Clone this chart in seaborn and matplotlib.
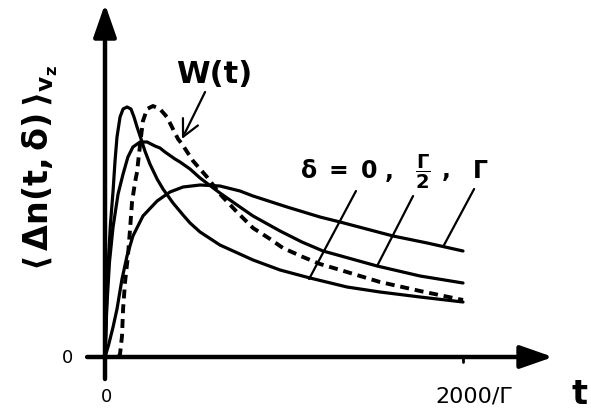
import matplotlib
matplotlib.use('Agg')
import matplotlib.pyplot as plt
import seaborn as sns
import numpy as np

# values (t in units of 1/Gamma, y in arbitrary units)
t_d0 = [0, 10, 20, 30, 45, 56, 67, 84, 101, 123, 145, 162, 179, 196, 223, 251,
        291, 324, 380, 436, 475, 531, 642, 827, 978, 1145, 1352, 1536, 1760, 2000]
y_d0 = [0, 0.55, 1.0, 1.32, 1.66, 1.96, 2.20, 2.40, 2.48, 2.50, 2.48, 2.40, 2.30,
        2.21, 2.06, 1.93, 1.78, 1.68, 1.54, 1.42, 1.34, 1.25, 1.12, 0.97, 0.87,
        0.79, 0.70, 0.65, 0.60, 0.55]

t_half = [0, 10, 25, 45, 73, 101, 128, 156, 196, 235, 279, 307, 335, 391, 419,
          475, 531, 642, 754, 827, 978, 1100, 1218, 1520, 1760, 2000]
y_half = [0, 0.5, 0.95, 1.30, 1.63, 1.83, 2.00, 2.10, 2.15, 2.15, 2.11, 2.09,
          2.05, 1.98, 1.95, 1.88, 1.79, 1.64, 1.50, 1.41, 1.26, 1.15, 1.06, 0.91,
          0.81, 0.74]

t_gam = [0, 20, 45, 67, 95, 123, 156, 212, 291, 363, 436, 531, 642, 754, 827,
         1017, 1201, 1313, 1609, 1800, 2000]
y_gam = [0, 0.12, 0.30, 0.48, 0.78, 1.01, 1.21, 1.41, 1.56, 1.65, 1.70, 1.72,
         1.71, 1.66, 1.61, 1.50, 1.40, 1.35, 1.21, 1.14, 1.06]

t_w = [75, 84, 95, 101, 112, 128, 140, 151, 168, 179, 190, 201, 212, 235, 268,
       307, 346, 374, 408, 430, 492, 570, 642, 737, 827, 922, 994, 1106, 1201,
       1296, 1536, 1760, 2000]
y_w = [0, 0.03, 0.21, 0.48, 0.75, 1.01, 1.28, 1.55, 1.75, 1.85, 2.03, 2.20, 2.36,
       2.48, 2.51, 2.48, 2.40, 2.30, 2.18, 2.13, 1.96, 1.80, 1.63, 1.45, 1.29,
       1.18, 1.09, 1.00, 0.93, 0.88, 0.75, 0.66, 0.57]

delta_labels = [r'$\mathbf{\delta\ =\ 0\ ,}$', r'$\mathbf{\dfrac{\Gamma}{2}}$', r'$\mathbf{,}$', r'$\mathbf{\Gamma}$']
x_tick_label = '2000/Γ'

sns.set_style('white')
plt.rcParams['font.family'] = ['DejaVu Sans']
plt.rcParams['mathtext.fontset'] = 'dejavusans'
plt.rcParams['text.color'] = 'black'

fig = plt.figure(figsize=(5.91, 4.14), dpi=100)
ax = fig.add_axes([0, 0, 1, 1])
ax.set_xlim(-586.6, 2715)
ax.set_ylim(-0.56, 3.58)
ax.axis('off')

# curves
for tt, yy in [(t_d0, y_d0), (t_half, y_half), (t_gam, y_gam)]:
    sns.lineplot(x=tt, y=yy, ax=ax, color='black', lw=2.3, sort=False,
                 solid_joinstyle='round', solid_capstyle='round')
sns.lineplot(x=t_w, y=y_w, ax=ax, color='black', lw=2.8, sort=False,
             linestyle=(0, (2.3, 1.5)))

# axes drawn as arrows
arrow = dict(arrowstyle='-|>,head_length=1.0,head_width=0.35', lw=3.2,
             color='black', shrinkA=0, shrinkB=0, mutation_scale=20)
ax.annotate('', xy=(2503, 0), xytext=(-100, 0), arrowprops=arrow)
ax.annotate('', xy=(0, 3.53), xytext=(0, -0.22), arrowprops=arrow)
ax.plot([2000, 2000], [0, -0.05], color='black', lw=2)

# tick labels
ax.text(-210, 0, '0', fontsize=13, ha='center', va='center')
ax.text(10, -0.39, '0', fontsize=13, ha='center', va='center')
ax.text(2062, -0.39, x_tick_label, fontsize=16, ha='center', va='center')
ax.text(2650, -0.37, 't', fontsize=24, fontweight='bold', ha='center', va='center')

# y label
ax.text(-363, 1.90, r'$\mathbf{\langle\,\Delta n(t,\delta)\,\rangle_{v_z}}$',
        fontsize=24, rotation=90, ha='center', va='center')

# W(t) label with arrow
ax.text(609, 2.84, 'W(t)', fontsize=22, fontweight='bold', ha='center', va='center')
ax.annotate('', xy=(430, 2.18), xytext=(559, 2.65),
            arrowprops=dict(arrowstyle='->,head_length=0.6,head_width=0.3',
                            lw=1.6, color='black', shrinkA=0, shrinkB=0,
                            mutation_scale=20))

# delta labels and leader lines
ax.text(1089, 1.87, delta_labels[0], fontsize=17, ha='left', va='center')
ax.text(1777, 1.86, delta_labels[1], fontsize=14, ha='center', va='center')
ax.text(1900, 1.87, delta_labels[2], fontsize=17, ha='center', va='center')
ax.text(2095, 1.87, delta_labels[3], fontsize=17, ha='center', va='center')
for (x0, y0), (x1, y1) in [((1402, 1.66), (1140, 0.78)),
                           ((1721, 1.61), (1520, 0.91)),
                           ((2062, 1.68), (1894, 1.12))]:
    ax.plot([x0, x1], [y0, y1], color='black', lw=1.6)

fig.savefig('out.png', dpi=100)
